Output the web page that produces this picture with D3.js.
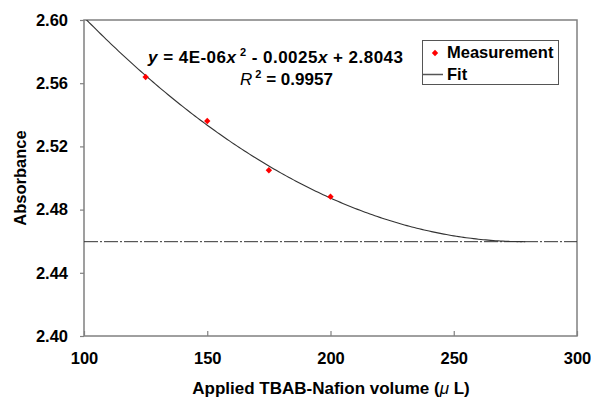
<!DOCTYPE html>
<html>
<head>
<meta charset="utf-8">
<script src="https://cdn.jsdelivr.net/npm/d3@7"></script>
<style>
  body { margin: 0; background: #fff; }
  text { font-family: "Liberation Sans", Arial, sans-serif; font-weight: bold; fill: #000; }
</style>
</head>
<body>
<script>
// measured points
var volume = [125, 150, 175, 200];
var absorbance = [2.5639, 2.5361, 2.5049, 2.4882];

var xTicks = [100, 150, 200, 250, 300];
var yTicks = [2.40, 2.44, 2.48, 2.52, 2.56, 2.60];

var W = 591, H = 399;
var m = {left: 84, top: 20, right: 14, bottom: 63};

var svg = d3.select("body").append("svg")
  .attr("width", W)
  .attr("height", H);

var x = d3.scaleLinear().domain([100, 300]).range([m.left, W - m.right]);
var y = d3.scaleLinear().domain([2.40, 2.60]).range([H - m.bottom, m.top]);

// least squares quadratic fit through the points
function quadFit(xs, ys) {
  var S = [0, 0, 0, 0, 0], T = [0, 0, 0];
  xs.forEach(function(xv, i) {
    var p = 1;
    for (var k = 0; k < 5; k++) { S[k] += p; if (k < 3) T[k] += p * ys[i]; p *= xv; }
  });
  var A = [[S[0], S[1], S[2], T[0]], [S[1], S[2], S[3], T[1]], [S[2], S[3], S[4], T[2]]];
  for (var i = 0; i < 3; i++) {
    for (var j = i + 1; j < 3; j++) {
      var f = A[j][i] / A[i][i];
      for (var k = i; k < 4; k++) A[j][k] -= f * A[i][k];
    }
  }
  var c = [0, 0, 0];
  for (var i = 2; i >= 0; i--) {
    var s = A[i][3];
    for (var k = i + 1; k < 3; k++) s -= A[i][k] * c[k];
    c[i] = s / A[i][i];
  }
  return c; // c0 + c1 x + c2 x^2
}
var c = quadFit(volume, absorbance);
var xMin = -c[1] / (2 * c[2]);
var yMin = c[0] + c[1] * xMin + c[2] * xMin * xMin;

svg.append("defs").append("clipPath").attr("id", "plot")
  .append("rect")
  .attr("x", m.left).attr("y", m.top)
  .attr("width", W - m.left - m.right).attr("height", H - m.top - m.bottom);

// frame
svg.append("rect")
  .attr("x", m.left).attr("y", m.top)
  .attr("width", W - m.left - m.right).attr("height", H - m.top - m.bottom)
  .attr("fill", "none").attr("stroke", "#808080").attr("stroke-width", 1.5);

// y axis, ticks outward
var yAxis = svg.append("g")
  .attr("transform", "translate(" + m.left + ",0)")
  .call(d3.axisLeft(y).tickValues(yTicks).tickSize(4).tickPadding(12).tickFormat(d3.format(".2f")));
// x axis, ticks inward
var xAxis = svg.append("g")
  .attr("transform", "translate(0," + (H - m.bottom) + ")")
  .call(d3.axisBottom(x).tickValues(xTicks).tickSize(-5).tickPadding(16).tickFormat(d3.format("d")));
[xAxis, yAxis].forEach(function(g) {
  g.select(".domain").remove();
  g.selectAll("line").attr("stroke", "#808080").attr("stroke-width", 1.2);
  g.selectAll("text").attr("font-size", 16.5).attr("font-family", "Liberation Sans, Arial, sans-serif").attr("font-weight", "bold");
});

// saturation line
svg.append("line")
  .attr("x1", x(100)).attr("x2", x(300))
  .attr("y1", y(yMin)).attr("y2", y(yMin))
  .attr("stroke", "#333").attr("stroke-width", 1)
  .attr("stroke-dasharray", "14,2,2,2");

// fit curve
var curve = d3.range(100, xMin + 0.5, 1).map(function(v) {
  return [v, c[0] + c[1] * v + c[2] * v * v];
});
svg.append("path")
  .datum(curve)
  .attr("clip-path", "url(#plot)")
  .attr("fill", "none").attr("stroke", "#333").attr("stroke-width", 1.1)
  .attr("d", d3.line().x(function(d) { return x(d[0]); }).y(function(d) { return y(d[1]); }));

// small diamond marker
var dia = "M0,-3.2L3.2,0L0,3.2L-3.2,0Z";

// points
svg.selectAll(".pt")
  .data(volume)
  .enter().append("path")
  .attr("class", "pt")
  .attr("transform", function(d, i) { return "translate(" + x(d) + "," + y(absorbance[i]) + ")"; })
  .attr("d", dia)
  .attr("fill", "#ff0000");

// equation
var eq = svg.append("text").attr("x", 148).attr("y", 63).attr("font-size", 17)
  .attr("textLength", 255).attr("lengthAdjust", "spacing");
eq.append("tspan").attr("font-style", "italic").text("y");
eq.append("tspan").text(" = 4E-06");
eq.append("tspan").attr("font-style", "italic").text("x");
eq.append("tspan").attr("dy", -7).attr("font-size", 11).text(" 2");
eq.append("tspan").attr("dy", 7).text(" - 0.0025");
eq.append("tspan").attr("font-style", "italic").text("x");
eq.append("tspan").text("  + 2.8043");

var r2 = svg.append("text").attr("x", 240).attr("y", 85).attr("font-size", 17);
r2.append("tspan").attr("font-style", "italic").attr("font-weight", "normal").text("R");
r2.append("tspan").attr("dy", -7).attr("font-size", 11).text(" 2");
r2.append("tspan").attr("dy", 7).text(" = 0.9957");

// legend
var lg = svg.append("g");
lg.append("rect")
  .attr("x", 422.5).attr("y", 40.5).attr("width", 136).attr("height", 44)
  .attr("fill", "#fff").attr("stroke", "#555").attr("stroke-width", 1);
lg.append("path")
  .attr("transform", "translate(435,53)")
  .attr("d", dia)
  .attr("fill", "#ff0000");
lg.append("text").attr("x", 447).attr("y", 58).attr("font-size", 16.5).text("Measurement");
lg.append("line")
  .attr("x1", 423).attr("x2", 443).attr("y1", 74.5).attr("y2", 74.5)
  .attr("stroke", "#555").attr("stroke-width", 1.5);
lg.append("text").attr("x", 447).attr("y", 80).attr("font-size", 16.5).text("Fit");

// axis titles
var xt = svg.append("text")
  .attr("x", 331).attr("y", 394).attr("text-anchor", "middle").attr("font-size", 17);
xt.append("tspan").text("Applied TBAB-Nafion volume (");
xt.append("tspan").attr("font-style", "italic").attr("font-weight", "normal").text("\u03bc");
xt.append("tspan").text(" L)");

svg.append("text")
  .attr("transform", "translate(26,178) rotate(-90)")
  .attr("text-anchor", "middle").attr("font-size", 16.5)
  .text("Absorbance");
</script>
</body>
</html>
